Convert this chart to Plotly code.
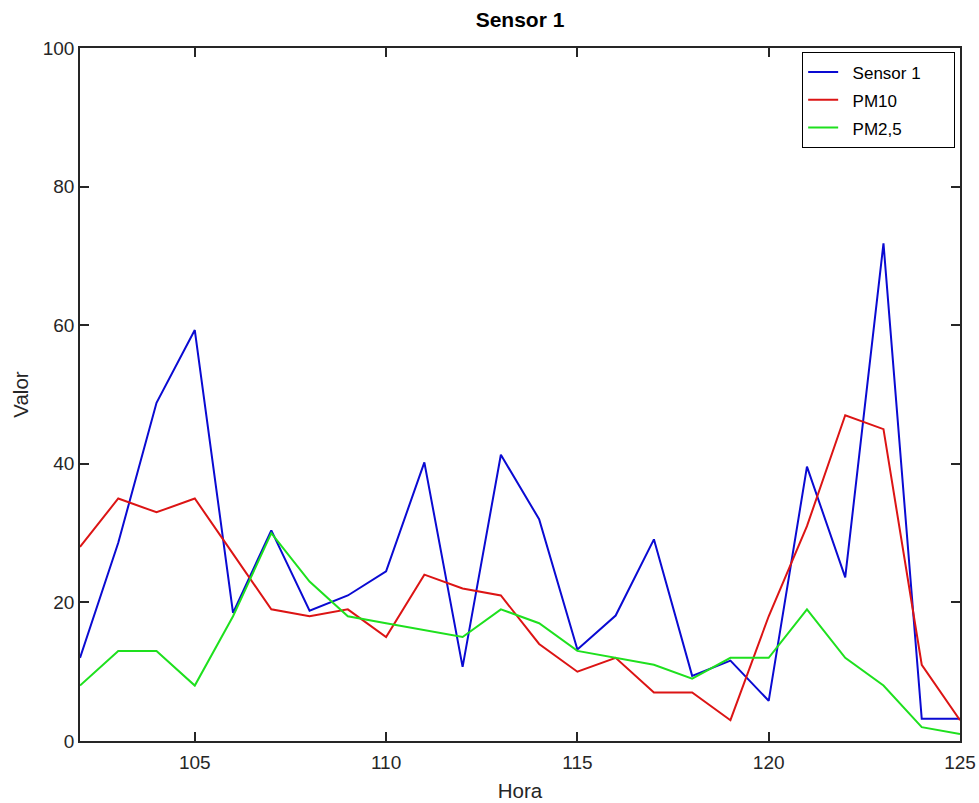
import plotly.graph_objects as go

hours = list(range(102, 126))
sensor1 = [12.0, 28.6, 48.8, 59.3, 18.5, 30.4, 18.8, 21.0, 24.5, 40.2, 10.7, 41.3, 32.0,
           13.2, 18.1, 29.1, 9.4, 11.6, 5.8, 39.6, 23.6, 71.8, 3.2, 3.2]
pm10 = [28, 35, 33, 35, 27, 19, 18, 19, 15, 24, 22, 21, 14,
        10, 12, 7, 7, 3, 18, 31, 47, 45, 11, 3]
pm25 = [8, 13, 13, 8, 18, 30, 23, 18, 17, 16, 15, 19, 17,
        13, 12, 11, 9, 12, 12, 19, 12, 8, 2, 1]

series_names = ["Sensor 1", "PM10", "PM2,5"]
x_ticks = [105, 110, 115, 120, 125]
y_ticks = [0, 20, 40, 60, 80, 100]

font = "Liberation Sans, Arial, sans-serif"
txt = "#262626"


def legend_label(s):
    return ('<span style="font-size:17px">&nbsp;&nbsp;' + s
            + "&nbsp;&nbsp;&nbsp;&nbsp;&nbsp;&nbsp;</span>")


fig = go.Figure()
fig.add_trace(go.Scatter(x=hours, y=sensor1, mode="lines", name=legend_label(series_names[0]),
                         line=dict(color="#0a0ad2", width=2)))
fig.add_trace(go.Scatter(x=hours, y=pm10, mode="lines", name=legend_label(series_names[1]),
                         line=dict(color="#dc1414", width=2)))
fig.add_trace(go.Scatter(x=hours, y=pm25, mode="lines", name=legend_label(series_names[2]),
                         line=dict(color="#1ee01e", width=2)))

axis_common = dict(showgrid=False, zeroline=False, showline=True, linecolor=txt,
                   linewidth=1.5, mirror="ticks", ticks="inside", ticklen=9,
                   tickcolor=txt, tickwidth=1.5, automargin=False,
                   tickfont=dict(family=font, size=19, color=txt))

fig.update_layout(
    width=979, height=803,
    margin=dict(l=80, r=19, t=48, b=62),
    paper_bgcolor="white", plot_bgcolor="white",
    title=dict(text="<b>Sensor 1</b>", x=0.5, xref="paper", xanchor="center",
               y=1 - 20 / 803, yanchor="middle",
               font=dict(family=font, size=21, color="black")),
    xaxis=dict(range=[102, 125], tickvals=x_ticks, ticklabelstandoff=3,
               title=dict(text="Hora", standoff=12, font=dict(family=font, size=20.5, color=txt)),
               **axis_common),
    yaxis=dict(range=[0, 100], tickvals=y_ticks,
               title=dict(text="Valor", standoff=9, font=dict(family=font, size=20.5, color=txt)),
               **axis_common),
    legend=dict(x=0.9945, y=0.994, xanchor="right", yanchor="top",
                bgcolor="white", bordercolor="black", borderwidth=1,
                font=dict(family=font, size=19, color="black"),
                tracegroupgap=0),
    showlegend=True,
)

fig.write_html("out.html")
